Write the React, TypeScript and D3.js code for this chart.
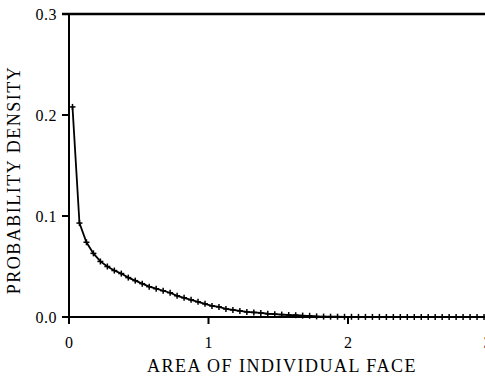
import React from "react";
import * as d3 from "d3";

// Face-area bins (bin centres) and the probability density of each bin
const areas: number[] = d3.range(60).map((i) => 0.025 + i * 0.05);
const densities: number[] = [
  0.208, 0.093, 0.074, 0.063, 0.055, 0.05, 0.046, 0.043, 0.039, 0.036,
  0.033, 0.03, 0.028, 0.026, 0.024, 0.021, 0.019, 0.017, 0.015, 0.013,
  0.011, 0.01, 0.008, 0.007, 0.006, 0.005, 0.0045, 0.004, 0.0032, 0.0028,
  0.0024, 0.002, 0.0018, 0.0014, 0.0012, 0.0006, 0.0004, 0.0003, 0.0003, 0.0002,
  0.0002, 0.0001, 0.0001, 0.0001, 0.0001, 0, 0, 0, 0, 0,
  0, 0, 0, 0, 0, 0, 0, 0, 0, 0,
];
const xTicks: number[] = [0, 1, 2, 3];
const yTicks: number[] = [0, 0.1, 0.2, 0.3];

const W = 485;
const H = 376;
const font = "'Liberation Serif', 'DejaVu Serif', serif";

export default function App() {
  const x = d3.scaleLinear().domain([0, 3]).range([69, 487.5]);
  const y = d3.scaleLinear().domain([0, 0.3]).range([317, 14]);
  const pts = areas.map((a, i) => [a, densities[i]] as [number, number]);
  const line = d3
    .line<[number, number]>()
    .x((d) => x(d[0]))
    .y((d) => y(d[1]));

  return (
    <svg
      width={W}
      height={H}
      style={{ position: "absolute", left: 0, top: 0, background: "#fff" }}
    >
      {/* frame: left axis, bottom axis, top line */}
      <line x1={69} x2={69} y1={13} y2={324} stroke="#000" strokeWidth={2} />
      <line x1={62} x2={W} y1={317} y2={317} stroke="#000" strokeWidth={2} />
      <line x1={62} x2={W} y1={14} y2={14} stroke="#000" strokeWidth={2.5} />

      {yTicks.map((t) => (
        <g key={"y" + t}>
          <line x1={62} x2={69} y1={y(t)} y2={y(t)} stroke="#000" strokeWidth={2} />
          <text
            x={57}
            y={y(t)}
            dy="0.35em"
            textAnchor="end"
            fontFamily={font}
            fontSize={16}
            letterSpacing={0.5}
          >
            {d3.format(".1f")(t)}
          </text>
        </g>
      ))}

      {xTicks.map((t) => (
        <g key={"x" + t}>
          <line x1={x(t)} x2={x(t)} y1={317} y2={324} stroke="#000" strokeWidth={2} />
          <text
            x={x(t)}
            y={348}
            textAnchor="middle"
            fontFamily={font}
            fontSize={16}
          >
            {t}
          </text>
        </g>
      ))}

      <path d={line(pts) ?? ""} fill="none" stroke="#000" strokeWidth={1.8} />
      {pts.map((p, i) => (
        <g key={i} stroke="#000" strokeWidth={1.5}>
          <line x1={x(p[0]) - 3} x2={x(p[0]) + 3} y1={y(p[1])} y2={y(p[1])} />
          <line x1={x(p[0])} x2={x(p[0])} y1={y(p[1]) - 3} y2={y(p[1]) + 3} />
        </g>
      ))}

      <text
        x={282}
        y={372}
        textAnchor="middle"
        fontFamily={font}
        fontSize={18}
        letterSpacing={1.5}
      >
        AREA OF INDIVIDUAL FACE
      </text>
      <text
        transform="translate(20,180) rotate(-90)"
        textAnchor="middle"
        fontFamily={font}
        fontSize={18}
        letterSpacing={1.5}
      >
        PROBABILITY DENSITY
      </text>
    </svg>
  );
}
